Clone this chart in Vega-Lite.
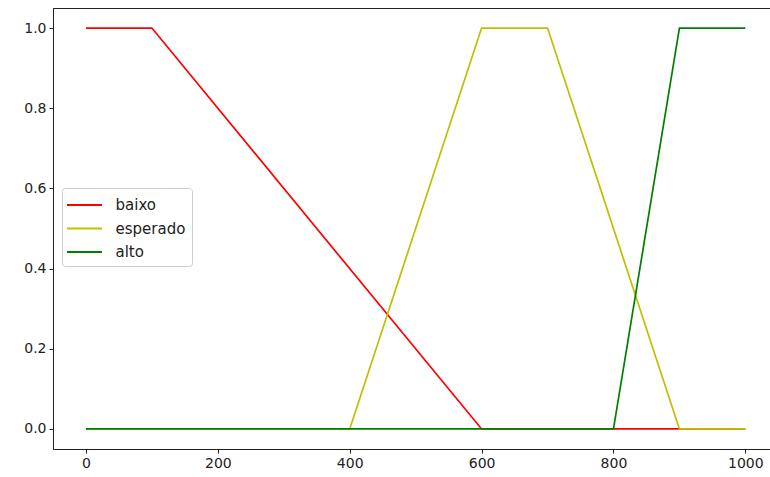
{
  "$schema": "https://vega.github.io/schema/vega-lite/v6.json",
  "autosize": {"type": "none"},
  "padding": {"left": 53, "top": 8, "right": 0, "bottom": 28},
  "width": 724,
  "height": 441,
  "background": "white",
  "config": {
    "view": {"stroke": "#222222", "strokeWidth": 1},
    "font": "DejaVu Sans"
  },
  "data": {
    "values": [
      {"x": 0, "y": 1, "s": "baixo"},
      {"x": 100, "y": 1, "s": "baixo"},
      {"x": 600, "y": 0, "s": "baixo"},
      {"x": 1000, "y": 0, "s": "baixo"},
      {"x": 0, "y": 0, "s": "esperado"},
      {"x": 400, "y": 0, "s": "esperado"},
      {"x": 600, "y": 1, "s": "esperado"},
      {"x": 700, "y": 1, "s": "esperado"},
      {"x": 900, "y": 0, "s": "esperado"},
      {"x": 1000, "y": 0, "s": "esperado"},
      {"x": 0, "y": 0, "s": "alto"},
      {"x": 800, "y": 0, "s": "alto"},
      {"x": 900, "y": 1, "s": "alto"},
      {"x": 1000, "y": 1, "s": "alto"}
    ]
  },
  "mark": {"type": "line", "strokeWidth": 1.7, "clip": true},
  "encoding": {
    "x": {
      "field": "x", "type": "quantitative",
      "scale": {"domain": [-50, 1048], "nice": false, "zero": false},
      "axis": {
        "title": null, "values": [0, 200, 400, 600, 800, 1000], "format": "d", "grid": false,
        "domainColor": "#222222", "tickColor": "#222222", "tickSize": 4,
        "labelFontSize": 14, "labelColor": "#222222", "labelPadding": 3, "labelFlush": false
      }
    },
    "y": {
      "field": "y", "type": "quantitative",
      "scale": {"domain": [-0.05, 1.05], "nice": false, "zero": false},
      "axis": {
        "title": null, "values": [0, 0.2, 0.4, 0.6, 0.8, 1.0], "format": ".1f", "grid": false,
        "domainColor": "#222222", "tickColor": "#222222", "tickSize": 4,
        "labelFontSize": 14, "labelColor": "#222222", "labelPadding": 3, "labelFlush": false
      }
    },
    "color": {
      "field": "s", "type": "nominal",
      "scale": {"domain": ["baixo", "esperado", "alto"], "range": ["#ff0000", "#bfbf00", "#008000"]},
      "legend": {
        "title": null,
        "orient": "none",
        "legendX": 9,
        "legendY": 180,
        "symbolType": "M-1.75,0H1.75",
        "symbolSize": 400,
        "symbolStrokeWidth": 2,
        "symbolOffset": 5.5,
        "labelFontSize": 15,
        "labelColor": "#222222",
        "labelOffset": 20,
        "rowPadding": 4.5,
        "padding": 6,
        "strokeColor": "#cccccc",
        "fillColor": "white",
        "cornerRadius": 3
      }
    },
    "order": {"field": "s"}
  }
}
